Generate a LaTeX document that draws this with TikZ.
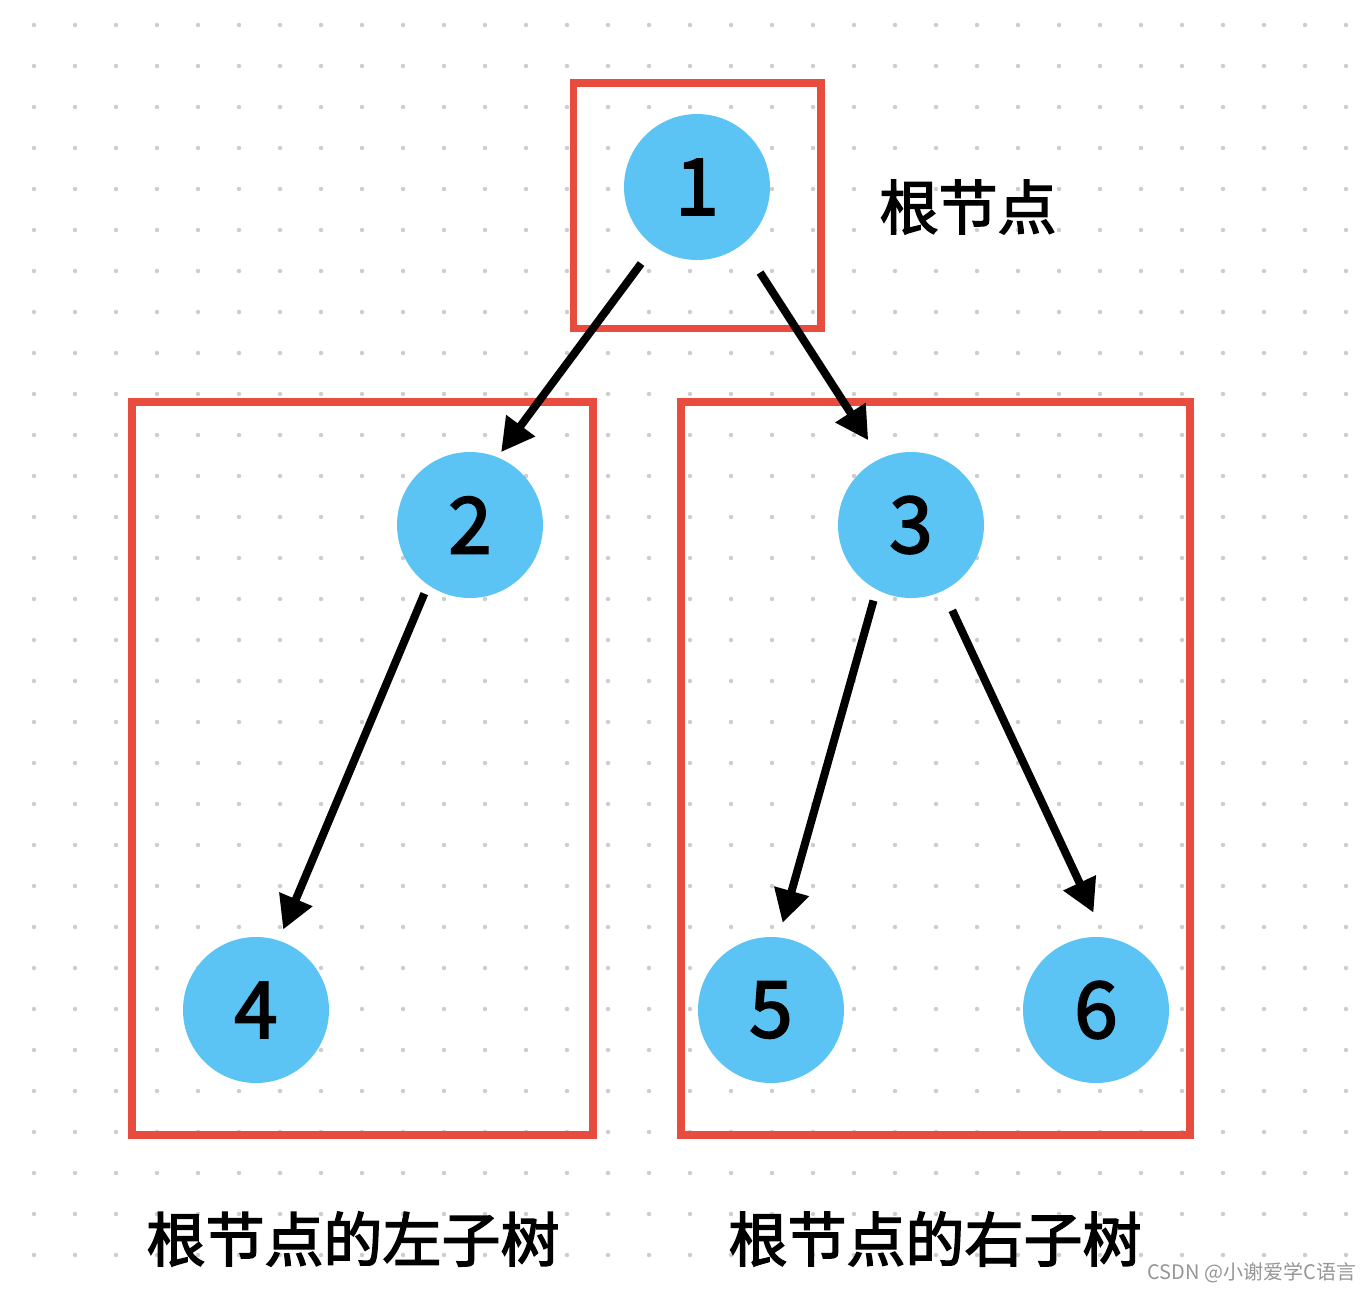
\documentclass[tikz,border=0pt]{standalone}
\usepackage{fontspec}
\newfontfamily\cjk[AutoFakeBold=2.5, BoldFeatures={FakeBold=1.2}]{Noto Sans CJK SC}
\usetikzlibrary{arrows.meta}
\definecolor{nodeblue}{RGB}{91,196,244}
\definecolor{boxred}{RGB}{231,76,62}
\definecolor{dotgray}{RGB}{205,205,205}
\definecolor{wmgray}{RGB}{150,150,150}
\tikzset{
  treenode/.style={circle, fill=nodeblue, minimum size=73pt, inner sep=0pt,
    font=\cjk\bfseries\fontsize{39}{39}\selectfont},
  redbox/.style={draw=boxred, line width=3.6pt},
  edge/.style={line width=4pt, -{Triangle[length=16.5pt,width=17pt]}},
  label/.style={font=\cjk\bfseries\fontsize{29.5}{29.5}\selectfont, inner sep=0pt}
}
\begin{document}
\begin{tikzpicture}[x=0.5pt,y=-0.5pt]
\useasboundingbox[fill=white] (0,0) rectangle (1370,1292);
% dot grid
\foreach \i in {0,...,32}{
  \foreach \j in {0,...,30}{
    \fill[dotgray] ({34+41*\i},{25+41*\j}) circle (1.1pt);
  }
}
% boxes
\draw[redbox] (573.5,83) rectangle (821,328.5);
\draw[redbox] (132,402) rectangle (593,1135);
\draw[redbox] (681,402) rectangle (1190,1135);
% nodes
\node[treenode] (n1) at (697,187) {1};
\node[treenode] (n2) at (470,525) {2};
\node[treenode] (n3) at (911,525) {3};
\node[treenode] (n4) at (256,1010) {4};
\node[treenode] (n5) at (771,1010) {5};
\node[treenode] (n6) at (1096,1010) {6};
% edges
\draw[edge, shorten <=10.7pt, shorten >=3pt] (n1.-126.3) -- (n2.68.8);
\draw[edge, shorten <=16.5pt, shorten >=10.8pt] (n1.-52.9) -- (n3.115.6);
\draw[edge, shorten <=4.6pt, shorten >=5.75pt] (n2.-125.5) -- (n4.72);
\draw[edge, shorten <=5.6pt, shorten >=7.3pt] (n3.-118.3) -- (n5.84.7);
\draw[edge, shorten <=10.7pt, shorten >=13.5pt] (n3.-64) -- (n6.83.4);
% labels
\node[label] (lroot) at (968,207) {根节点};
\node[label] (lleft) at (353,1239) {根节点的左子树};
\node[label] (lright) at (935,1239) {根节点的右子树};
\node[font=\cjk\fontsize{10}{10}\selectfont, text=wmgray, inner sep=0pt] (wm) at (1252,1273) {CSDN @小谢爱学C语言};
\end{tikzpicture}
\end{document}
